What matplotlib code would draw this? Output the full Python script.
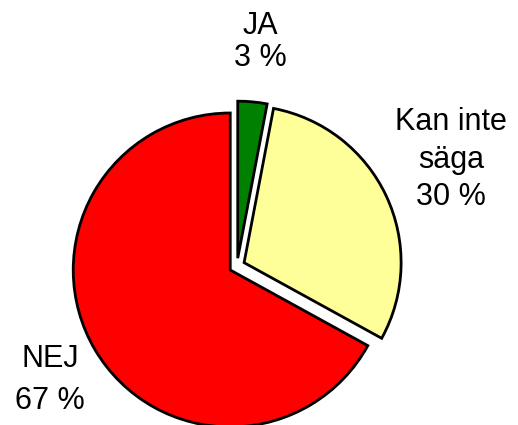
import matplotlib
matplotlib.use("Agg")
import matplotlib.pyplot as plt

# survey answers, clockwise from 12 o'clock
categories = ["JA", "Kan inte säga", "NEJ"]
shares = [3, 30, 67]
colors = ["#008000", "#FFFF99", "#FF0000"]

# label lines (one entry per text line) and where they sit in pixels
label_lines = [["JA", "3 %"], ["Kan inte", "säga", "30 %"], ["NEJ", "67 %"]]
label_x = [260, 451, 50]
label_baselines = [[34, 66], [130, 168, 205], [367, 409]]

W, H = 518, 425
CX, CY, R = 237.0, 266.0, 157.0

plt.rcParams["font.family"] = ["Liberation Sans", "DejaVu Sans"]

fig = plt.figure(figsize=(W / 100, H / 100), dpi=100)
ax = fig.add_axes([0, 0, 1, 1])
ax.pie(
    shares,
    colors=colors,
    startangle=90,
    counterclock=False,
    explode=[0.05] * len(shares),
    wedgeprops=dict(edgecolor="black", linewidth=2.0),
)
ax.set_aspect("auto")
ax.set_xlim(-CX / R, (W - CX) / R)
ax.set_ylim(-(H - CY) / R, CY / R)
ax.axis("off")

for lines, x, ys in zip(label_lines, label_x, label_baselines):
    for line, y in zip(lines, ys):
        fig.text(x / W, 1 - y / H, line, ha="center", va="baseline",
                 fontsize=22, color="black")

fig.savefig("out.png", dpi=100)
